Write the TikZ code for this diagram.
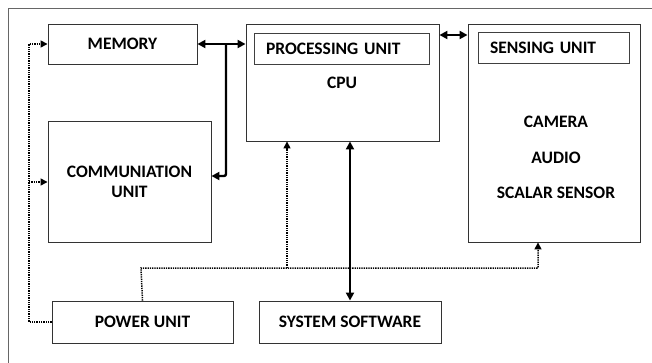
\documentclass[tikz,border=0pt]{standalone}
\usepackage{fontspec}
\setmainfont{Carlito}
\usetikzlibrary{arrows.meta}
\begin{document}
\begin{tikzpicture}[x=1pt,y=-1pt,
  font=\fontsize{17.5}{20}\selectfont\bfseries,
  box/.style={draw=black!80, line width=0.9pt, inner sep=0pt},
  titlebox/.style={draw=black!75, line width=0.9pt, inner xsep=12pt, inner ysep=0pt,
    minimum height=31pt, align=left},
  bus/.style={line width=2.4pt, black, line cap=butt},
  pwr/.style={line width=1.5pt, black, dash pattern=on 1.3pt off 1pt},
  tip/.style={-{Triangle[length=8pt,width=8pt]}},
  tips/.style={{Triangle[length=8pt,width=8pt]}-{Triangle[length=8pt,width=8pt]}},
  dtip/.style={-{Triangle[length=7pt,width=7pt]}}]
  \useasboundingbox (0,0) rectangle (652,363);
  \fill[white] (0,0) rectangle (652,363);

  % outer frame
  \draw[black!60, line width=1pt] (8,363) -- (8,9) -- (652,9);

  % blocks
  \node[box, minimum width=149pt, minimum height=40pt] (memory) at (122.5,44) {MEMORY};
  \node[box, minimum width=163pt, minimum height=121pt, align=center] (comm) at (129.5,181.5)
    {COMMUNIATION\\UNIT};
  \node[box, minimum width=193pt, minimum height=117pt] (proc) at (342.5,82.5) {};
  \node[titlebox, text width=151pt] (proctitle) at (341.5,48.5) {PROCESSING UNIT};
  \node (cpu) at (342,83) {CPU};
  \node[box, minimum width=172pt, minimum height=218pt] (sens) at (554,133) {};
  \node[titlebox, text width=127pt] (senstitle) at (553.5,48) {SENSING UNIT};
  \node (camera) at (556,122) {CAMERA};
  \node (audio) at (556,158) {AUDIO};
  \node (scalar) at (556,193) {SCALAR SENSOR};
  \node[box, minimum width=181pt, minimum height=42pt] (power) at (142.5,322) {POWER UNIT};
  \node[box, minimum width=182pt, minimum height=42pt] (syssw) at (350,322) {SYSTEM SOFTWARE};

  % data buses
  \coordinate (busa) at (226,44);
  \coordinate (busb) at (226,176);
  \coordinate (ps) at (453,35);
  \draw[bus, tips] (memory.east) -- (proc.west |- memory.east);
  \draw[bus, tip, rounded corners=2pt] (busa) -- (busb) -- (comm.east |- busb);
  \draw[bus, tips] (proc.east |- ps) -- (sens.west |- ps);
  \draw[bus, tips] (syssw.north) -- (syssw.north |- proc.south);

  % power distribution
  \coordinate (pr) at (141,268);
  \coordinate (pj) at (287,268);
  \coordinate (pe) at (538,268);
  \coordinate (pl) at (29,322);
  \coordinate (pm) at (29,44);
  \coordinate (pc) at (29,182);
  \draw[pwr, dtip] (power.north) -- (pr) -- (pe) -- (pe |- sens.south);
  \draw[pwr, dtip] (pj) -- (pj |- proc.south);
  \draw[pwr, dtip] (power.west) -- (pl) -- (pm) -- (memory.west);
  \draw[pwr, dtip] (pc) -- (comm.west |- pc);
\end{tikzpicture}
\end{document}
